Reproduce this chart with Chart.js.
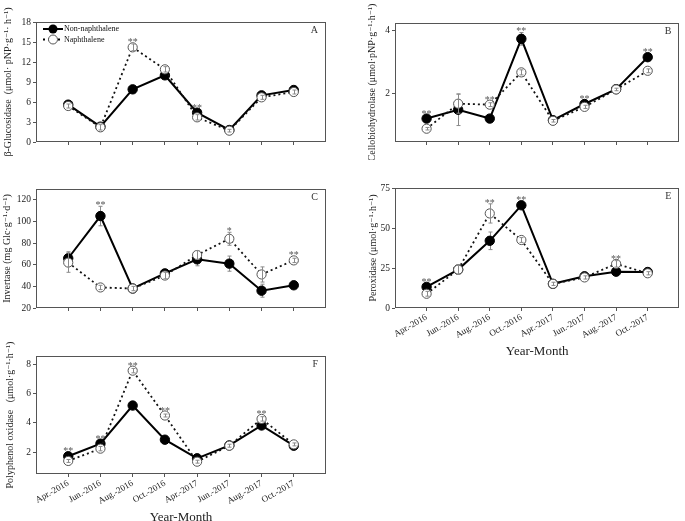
<!DOCTYPE html>
<html>
<head>
<meta charset="utf-8">
<script src="https://cdn.jsdelivr.net/npm/chart.js@4.4.1/dist/chart.umd.min.js"></script>
<style>
  body { margin: 0; background: #fff; }
  #wrap { position: relative; width: 685px; height: 521px; overflow: hidden; }
  .panel { position: absolute; }
</style>
</head>
<body>
<div id="wrap">
  <div class="panel" style="left:0;top:0;width:342px;height:160px"><canvas id="chartA"></canvas></div>
  <div class="panel" style="left:342px;top:0;width:343px;height:160px"><canvas id="chartB"></canvas></div>
  <div class="panel" style="left:0;top:160px;width:342px;height:160px"><canvas id="chartC"></canvas></div>
  <div class="panel" style="left:342px;top:160px;width:343px;height:200px"><canvas id="chartE"></canvas></div>
  <div class="panel" style="left:0;top:320px;width:342px;height:201px"><canvas id="chartF"></canvas></div>
</div>
<script>
const months = ['Apr.-2016', 'Jun.-2016', 'Aug.-2016', 'Oct.-2016', 'Apr.-2017', 'Jun.-2017', 'Aug.-2017', 'Oct.-2017'];

// A - beta-glucosidase
const nonA = [5.6, 2.3, 7.9, 10.0, 4.4, 1.8, 7.0, 7.8];
const napA = [5.4, 2.2, 14.2, 10.9, 3.7, 1.7, 6.7, 7.5];
const errNonA = [0.3, 0.3, 0.4, 0.4, 0.3, 0.2, 0.3, 0.3];
const errNapA = [0.3, 0.4, 0.5, 0.4, 0.4, 0.2, 0.3, 0.3];
const sigA = ['', '', '**', '', '**', '', '', ''];
const ticksA = [0, 3, 6, 9, 12, 15, 18];

// B - cellobiohydrolase
const nonB = [1.21, 1.49, 1.21, 3.73, 1.16, 1.67, 2.14, 3.15];
const napB = [0.89, 1.68, 1.65, 2.67, 1.14, 1.58, 2.13, 2.72];
const errNonB = [0.04, 0.5, 0.04, 0.2, 0.04, 0.04, 0.04, 0.05];
const errNapB = [0.04, 0.3, 0.06, 0.08, 0.04, 0.05, 0.04, 0.06];
const sigB = ['**', '', '**', '**', '', '**', '', '**'];
const ticksB = [2, 4];

// C - invertase
const nonC = [66, 105, 38, 52, 65, 61, 36, 41];
const napC = [62, 39, 38, 50, 69, 84, 51, 64];
const errNonC = [6, 9, 2, 3, 6, 7, 6, 2];
const errNapC = [9, 2, 2, 3, 4, 6, 7, 2];
const sigC = ['', '**', '', '', '', '*', '', '**'];
const ticksC = [20, 40, 60, 80, 100, 120];

// E - peroxidase
const nonE = [13.2, 24, 42, 64.2, 15.1, 19.8, 22.7, 22.5];
const napE = [8.9, 24, 59.1, 42.5, 15.1, 19.1, 27.6, 21.7];
const errNonE = [1.5, 2, 5.5, 1.5, 1, 1, 1, 1];
const errNapE = [1.5, 3, 6, 1.5, 1, 1, 2, 1];
const sigE = ['**', '', '**', '**', '', '', '**', ''];
const ticksE = [0, 25, 50, 75];

// F - polyphenol oxidase
const nonF = [1.71, 2.57, 5.17, 2.84, 1.57, 2.45, 3.81, 2.43];
const napF = [1.39, 2.23, 7.55, 4.49, 1.34, 2.43, 4.26, 2.52];
const errNonF = [0.1, 0.12, 0.1, 0.1, 0.1, 0.1, 0.1, 0.1];
const errNapF = [0.1, 0.15, 0.15, 0.1, 0.1, 0.1, 0.15, 0.1];
const sigF = ['**', '**', '**', '**', '', '', '**', ''];
const ticksF = [2, 4, 6, 8];

const FONT = "'Liberation Serif', 'DejaVu Serif', serif";
Chart.defaults.font.family = FONT;
Chart.defaults.color = '#222';
Chart.defaults.animation = false;

function makePanel(id, p) {
    const toPts = arr => arr.map((v, i) => ({ x: i + 1, y: v }));

    function bars(chart, vals, errs) {
        const ctx = chart.ctx, xs = chart.scales.x, ys = chart.scales.y;
        ctx.save();
        ctx.strokeStyle = '#8a8a8a';
        ctx.lineWidth = 1;
        vals.forEach((v, i) => {
            const x = Math.round(xs.getPixelForValue(i + 1)) + 0.5;
            const y1 = ys.getPixelForValue(v + errs[i]);
            const y2 = ys.getPixelForValue(v - errs[i]);
            ctx.beginPath();
            ctx.moveTo(x, y1); ctx.lineTo(x, y2);
            ctx.moveTo(x - 2, y1); ctx.lineTo(x + 2, y1);
            ctx.moveTo(x - 2, y2); ctx.lineTo(x + 2, y2);
            ctx.stroke();
        });
        ctx.restore();
    }

    const panelPlugin = {
        id: 'panel' + id,
        beforeDatasetsDraw(chart) {
            bars(chart, p.non, p.errNon);
        },
        afterDatasetsDraw(chart) {
            bars(chart, p.nap, p.errNap);
            const ctx = chart.ctx, a = chart.chartArea, xs = chart.scales.x, ys = chart.scales.y;
            ctx.save();
            // frame
            ctx.strokeStyle = '#555';
            ctx.lineWidth = 1;
            const l = Math.round(a.left) + 0.5, t = Math.round(a.top) + 0.5;
            const r = Math.round(a.right) - 0.5, b = Math.round(a.bottom) - 0.5;
            ctx.strokeRect(l, t, r - l, b - t);
            // panel letter
            ctx.fillStyle = '#333';
            ctx.font = '10px ' + FONT;
            ctx.textAlign = 'right';
            ctx.textBaseline = 'middle';
            ctx.fillText(p.letter, a.right - 8, a.top + 8);
            // significance stars
            ctx.fillStyle = '#555';
            ctx.font = '10px ' + FONT;
            ctx.textAlign = 'center';
            ctx.textBaseline = 'alphabetic';
            p.sig.forEach((s, i) => {
                if (!s) return;
                const x = xs.getPixelForValue(i + 1);
                let anchor = Infinity;
                [[p.non, p.errNon], [p.nap, p.errNap]].forEach(([vals, errs]) => {
                    const pt = ys.getPixelForValue(vals[i]) - 4;
                    const et = ys.getPixelForValue(vals[i] + errs[i]);
                    anchor = Math.min(anchor, pt, et);
                });
                ctx.fillText(s, x, anchor - 3 + 5);
            });
            // legend (panel A only)
            if (p.legend) {
                const lx = a.left + 7, rows = [a.top + 7, a.top + 17.5];
                ctx.font = '8px ' + FONT;
                ctx.textAlign = 'left';
                ctx.textBaseline = 'middle';
                ctx.strokeStyle = '#000';
                ctx.lineWidth = 2;
                ctx.beginPath();
                ctx.moveTo(lx, rows[0]); ctx.lineTo(lx + 20, rows[0]);
                ctx.stroke();
                ctx.beginPath();
                ctx.arc(lx + 10, rows[0], 4.5, 0, Math.PI * 2);
                ctx.fillStyle = '#000';
                ctx.fill();
                ctx.setLineDash([2, 3]);
                ctx.lineWidth = 1.8;
                ctx.beginPath();
                ctx.moveTo(lx, rows[1]); ctx.lineTo(lx + 20, rows[1]);
                ctx.stroke();
                ctx.setLineDash([]);
                ctx.beginPath();
                ctx.arc(lx + 10, rows[1], 4.5, 0, Math.PI * 2);
                ctx.fillStyle = '#fff';
                ctx.fill();
                ctx.strokeStyle = '#555';
                ctx.lineWidth = 1;
                ctx.stroke();
                ctx.fillStyle = '#111';
                ctx.fillText('Non-naphthalene', lx + 21, rows[0]);
                ctx.fillText('Naphthalene', lx + 21, rows[1]);
            }
            ctx.restore();
        }
    };

    return new Chart(document.getElementById(id), {
        type: 'line',
        data: {
            datasets: [
                {
                    label: 'Naphthalene',
                    data: toPts(p.nap),
                    borderColor: '#111',
                    borderWidth: 1.8,
                    borderDash: [2, 3],
                    pointRadius: 4.6,
                    pointBackgroundColor: '#fff',
                    pointBorderColor: '#555',
                    pointBorderWidth: 1,
                    tension: 0
                },
                {
                    label: 'Non-naphthalene',
                    data: toPts(p.non),
                    borderColor: '#000',
                    borderWidth: 2,
                    pointRadius: 4.7,
                    pointBackgroundColor: '#000',
                    pointBorderColor: '#000',
                    pointBorderWidth: 1,
                    tension: 0
                }
            ]
        },
        options: {
            responsive: true,
            maintainAspectRatio: false,
            layout: { padding: { left: 0, top: p.padTop, right: p.padRight, bottom: 0 } },
            plugins: { legend: { display: false }, tooltip: { enabled: false } },
            scales: {
                x: {
                    type: 'linear',
                    min: 0,
                    max: 9,
                    afterBuildTicks: s => { s.ticks = months.map((m, i) => ({ value: i + 1 })); },
                    afterFit: s => { s.height = p.xH; },
                    border: { display: false },
                    grid: { drawOnChartArea: false, tickLength: 3, color: '#555' },
                    ticks: {
                        display: p.showX,
                        autoSkip: false,
                        minRotation: 30,
                        maxRotation: 30,
                        padding: 1,
                        font: { size: 9 },
                        color: '#222',
                        callback: v => months[v - 1] || ''
                    },
                    title: {
                        display: p.showX,
                        text: 'Year-Month',
                        font: { size: 13 },
                        color: '#222',
                        padding: { top: 0, bottom: p.xTitlePad || 0 }
                    }
                },
                y: {
                    type: 'linear',
                    min: p.yMin,
                    max: p.yMax,
                    afterBuildTicks: s => { s.ticks = p.yTicks.map(v => ({ value: v })); },
                    afterFit: s => { s.width = p.yW; },
                    border: { display: false },
                    grid: { drawOnChartArea: false, tickLength: 3, color: '#555' },
                    ticks: { padding: 2, font: { size: 9.5 }, color: '#222', callback: v => String(v) },
                    title: {
                        display: true,
                        text: p.yTitle,
                        font: { size: 10 },
                        color: '#222',
                        padding: { top: p.yTitlePad, bottom: 0 }
                    }
                }
            }
        },
        plugins: [panelPlugin]
    });
}

makePanel('chartA', {
    non: nonA, nap: napA, errNon: errNonA, errNap: errNapA, sig: sigA,
    yMin: 0, yMax: 18, yTicks: ticksA, letter: 'A', legend: true,
    yTitle: 'β-Glucosidase  (μmol· pNP·g⁻¹· h⁻¹)', yTitlePad: 2,
    padTop: 22, padRight: 16, yW: 36, xH: 18, showX: false
});

makePanel('chartB', {
    non: nonB, nap: napB, errNon: errNonB, errNap: errNapB, sig: sigB,
    yMin: 0.47, yMax: 4.23, yTicks: ticksB, letter: 'B',
    yTitle: 'Cellobiohydrolase (μmol·pNP·g⁻¹·h⁻¹)', yTitlePad: 24,
    padTop: 23, padRight: 2, yW: 53, xH: 18, showX: false
});

makePanel('chartC', {
    non: nonC, nap: napC, errNon: errNonC, errNap: errNapC, sig: sigC,
    yMin: 20, yMax: 130, yTicks: ticksC, letter: 'C',
    yTitle: 'Invertase (mg Glc·g⁻¹·d⁻¹)', yTitlePad: 1,
    padTop: 29, padRight: 16, yW: 36, xH: 12, showX: false
});

makePanel('chartE', {
    non: nonE, nap: napE, errNon: errNonE, errNap: errNapE, sig: sigE,
    yMin: 0, yMax: 75, yTicks: ticksE, letter: 'E',
    yTitle: 'Peroxidase (μmol·g⁻¹·h⁻¹)', yTitlePad: 25,
    padTop: 28, padRight: 2, yW: 53, xH: 52, showX: true, xTitlePad: 1
});

makePanel('chartF', {
    non: nonF, nap: napF, errNon: errNonF, errNap: errNapF, sig: sigF,
    yMin: 0.5, yMax: 8.55, yTicks: ticksF, letter: 'F',
    yTitle: 'Polyphenol oxidase   (μmol·g⁻¹·h⁻¹)', yTitlePad: 4,
    padTop: 36, padRight: 16, yW: 36, xH: 47, showX: true, xTitlePad: -4
});
</script>
</body>
</html>
